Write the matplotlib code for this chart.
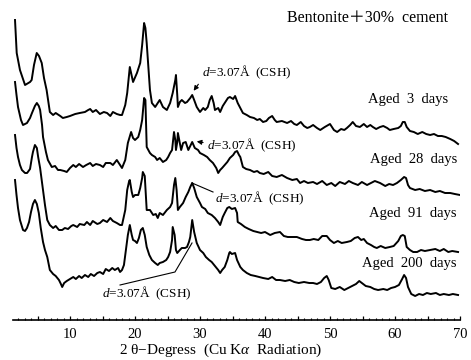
import matplotlib
matplotlib.use('Agg')
import matplotlib.pyplot as plt
from matplotlib.ticker import MultipleLocator, FuncFormatter
import numpy as np

# XRD patterns, Bentonite + 30% cement
# 2theta (deg) / relative intensity (arb. units), one pair per curing age

tt_3d = [1.54, 1.8, 2.3, 3.08, 3.85, 4.1, 4.46, 4.88, 5.23, 5.65, 6.0, 6.4, 6.9, 7.4, 7.8, 8.5, 8.9, 9.5,
         10.0, 10.8, 11.5, 12.3, 12.8, 13.1, 13.5, 14.0, 14.6, 15.2, 15.7, 16.2, 16.6, 17.2, 17.7, 18.0,
         18.5, 18.8, 19.2, 19.7, 20.3, 20.8, 21.1, 21.4, 21.6, 21.8, 22.3, 22.6, 23.1, 23.5, 23.8, 24.3,
         24.9, 25.4, 25.8, 26.2, 26.3, 26.5, 26.6, 26.9, 27.2, 27.7, 28.0, 28.5, 28.8, 29.1, 29.5, 30.0,
         30.5, 30.8, 31.2, 31.5, 31.8, 32.1, 32.3, 32.8, 33.1, 33.5, 33.8, 34.3, 34.6, 35.1, 35.4, 35.8,
         36.2, 36.6, 37.2, 37.7, 38.3, 38.8, 39.2, 39.7, 40.2, 40.6, 41.1, 41.5, 41.8, 42.6, 43.4, 44.0,
         44.5, 44.9, 45.5, 46.0, 46.5, 46.9, 47.4, 48.0, 48.5, 49.2, 50.0, 50.6, 51.1, 51.7, 52.2, 52.6,
         53.1, 53.5, 54.0, 54.6, 55.2, 55.7, 56.2, 56.6, 57.1, 57.7, 58.2, 58.8, 59.2, 59.8, 60.5, 60.9,
         61.2, 61.5, 61.8, 62.3, 62.9, 63.5, 64.2, 64.8, 65.4, 66.0, 66.6, 67.2, 67.8, 68.5, 69.1, 69.7]
int_3d = [125, 92, 75, 60, 63, 65, 80, 92, 89, 82, 67, 55, 33, 30, 32, 29, 27, 28,
          29, 31, 32, 33, 35, 36, 33, 35, 31, 33, 32, 29, 33, 31, 30, 30,
          40, 52, 78, 63, 72, 82, 100, 122, 117, 102, 55, 42, 38, 42, 45, 38,
          35, 42, 52, 65, 70, 50, 38, 43, 45, 42, 43, 47, 50, 45, 38, 33,
          37, 35, 38, 45, 49, 42, 35, 37, 33, 39, 42, 47, 48, 46, 49, 42,
          37, 32, 30, 28, 27, 25, 26, 23, 24, 27, 29, 25, 23, 24, 22, 24,
          21, 20, 23, 19, 17, 18, 20, 17, 15, 18, 21, 15, 13, 16, 15, 17,
          20, 23, 19, 18, 21, 18, 20, 18, 16, 18, 19, 17, 15, 16, 17, 19,
          23, 23, 18, 14, 13, 11, 13, 11, 10, 11, 9, 9, 8, 6, 4, 1]

tt_28d = [1.54, 1.77, 2.0, 2.46, 2.77, 3.08, 3.38, 3.85, 4.15, 4.6, 4.9, 5.2, 5.4, 5.7, 5.85, 6.3, 6.6,
          7.2, 7.7, 8.15, 8.5, 9.1, 9.5, 10.0, 10.5, 10.9, 11.4, 12.0, 12.5, 13.1, 13.5, 14.0, 14.6,
          15.1, 15.5, 16.2, 16.6, 17.2, 17.7, 18.0, 18.5, 18.9, 19.4, 19.7, 20.0, 20.5, 20.8, 21.1,
          21.4, 21.6, 21.8, 22.3, 22.6, 23.1, 23.4, 23.8, 24.3, 24.8, 25.1, 25.4, 25.7, 26.0, 26.2,
          26.3, 26.5, 26.6, 26.8, 27.1, 27.4, 27.8, 28.2, 28.5, 28.8, 29.2, 29.7, 30.0, 30.6, 31.1,
          31.5, 32.0, 32.5, 32.8, 33.1, 33.4, 33.8, 34.2, 34.6, 35.1, 35.4, 35.7, 36.0, 36.2, 36.6,
          37.1, 37.7, 38.3, 38.8, 39.2, 39.8, 40.5, 41.1, 41.8, 42.6, 43.4, 44.2, 44.9, 45.4, 46.0,
          46.6, 47.4, 48.0, 48.8, 49.5, 50.2, 50.8, 51.5, 52.3, 52.9, 53.5, 54.3, 54.9, 55.7, 56.3,
          56.9, 57.7, 58.5, 59.1, 59.7, 60.3, 60.9, 61.4, 61.7, 62.0, 62.3, 63.1, 63.8, 64.6, 65.4,
          66.2, 66.9, 67.7, 68.5, 69.2, 70.0]
int_28d = [118, 105, 93, 80, 75, 76, 77, 82, 87, 94, 97, 94, 90, 75, 63, 48, 40,
           33, 34, 30, 30, 29, 28, 32, 35, 33, 36, 33, 35, 37, 34, 36, 35,
           33, 37, 37, 35, 40, 35, 32, 40, 57, 68, 62, 60, 63, 70, 80,
           102, 100, 53, 47, 45, 43, 40, 42, 38, 40, 43, 47, 50, 68, 60,
           50, 58, 67, 60, 50, 57, 58, 50, 54, 58, 52, 50, 47, 45, 43,
           40, 37, 32, 27, 30, 32, 35, 38, 42, 45, 48, 49, 45, 43, 33,
           31, 30, 28, 29, 27, 26, 28, 24, 23, 25, 22, 20, 21, 17, 19,
           17, 18, 16, 19, 15, 17, 14, 18, 16, 19, 17, 15, 18, 15, 17,
           19, 17, 14, 16, 15, 17, 20, 23, 22, 15, 12, 10, 11, 9, 10,
           8, 9, 7, 7, 6, 5]

tt_91d = [1.54, 1.77, 2.0, 2.3, 2.6, 3.08, 3.4, 3.85, 4.15, 4.3, 4.6, 4.9, 5.1, 5.4, 5.85, 6.15, 6.5,
          6.9, 7.4, 7.8, 8.3, 8.8, 9.2, 9.7, 10.2, 10.5, 11.1, 11.5, 12.2, 12.6, 13.1, 13.5, 14.2,
          14.6, 15.1, 15.7, 16.2, 16.6, 17.2, 17.7, 18.0, 18.5, 18.8, 19.1, 19.2, 19.5, 19.7, 20.0,
          20.5, 20.8, 21.1, 21.2, 21.5, 21.8, 22.3, 22.8, 23.2, 23.5, 23.8, 24.3, 24.9, 25.4, 25.7,
          26.0, 26.2, 26.4, 26.6, 26.9, 27.4, 27.8, 28.2, 28.5, 28.8, 29.1, 29.5, 30.0, 30.3, 30.8,
          31.2, 31.8, 32.3, 32.8, 33.1, 33.5, 33.8, 34.2, 34.5, 34.9, 35.4, 35.7, 35.8, 36.3, 36.9,
          37.5, 38.2, 38.8, 39.4, 40.0, 40.8, 41.5, 42.3, 42.9, 43.5, 44.3, 44.9, 45.7, 46.3, 46.9,
          47.5, 48.2, 48.8, 49.5, 50.0, 50.6, 51.2, 51.8, 52.6, 53.2, 53.8, 54.3, 54.8, 55.2, 55.7,
          56.3, 56.8, 57.2, 57.8, 58.5, 59.2, 59.8, 60.5, 60.9, 61.2, 61.5, 61.8, 62.3, 62.8, 63.4,
          64.0, 64.6, 65.4, 66.2, 66.9, 67.5, 68.2, 68.8, 69.7]
int_91d = [120, 107, 98, 90, 85, 82, 82, 86, 98, 103, 110, 107, 98, 87, 65, 50, 35,
           30, 27, 29, 25, 25, 27, 26, 29, 30, 28, 31, 30, 33, 30, 34, 31,
           32, 35, 33, 37, 34, 32, 30, 30, 45, 65, 74, 75, 63, 58, 60,
           60, 67, 77, 83, 79, 45, 45, 40, 41, 37, 42, 40, 45, 48, 52,
           70, 77, 65, 45, 48, 52, 58, 63, 68, 72, 67, 58, 52, 48, 46,
           42, 40, 37, 33, 30, 38, 42, 47, 48, 46, 47, 42, 33, 31, 28,
           26, 24, 23, 22, 23, 20, 22, 23, 19, 18, 18, 18, 16, 15, 15,
           16, 15, 19, 19, 15, 12, 14, 12, 13, 14, 17, 18, 15, 16, 12,
           10, 8, 7, 9, 7, 8, 9, 14, 19, 20, 19, 8, 5, 3, 3,
           5, 4, 5, 6, 4, 6, 3, 4, 3]

tt_200d = [1.54, 1.77, 2.0, 2.3, 2.77, 3.08, 3.38, 3.7, 4.0, 4.3, 4.6, 4.9, 5.2, 5.5, 5.85, 6.15, 6.5,
           6.9, 7.4, 7.8, 8.3, 8.6, 8.8, 9.1, 9.5, 10.0, 10.5, 10.9, 11.4, 11.8, 12.3, 12.8, 13.2,
           13.7, 14.2, 14.6, 15.1, 15.5, 16.0, 16.5, 16.9, 17.4, 17.7, 18.0, 18.3, 18.6, 18.9, 19.2,
           19.5, 19.7, 20.0, 20.3, 20.6, 20.9, 21.2, 21.5, 21.8, 22.2, 22.6, 23.1, 23.5, 23.8, 24.3,
           24.8, 25.1, 25.4, 25.7, 25.8, 26.1, 26.3, 26.5, 26.9, 27.2, 27.7, 28.0, 28.3, 28.5, 28.7,
           28.8, 29.1, 29.5, 30.0, 30.5, 30.9, 31.4, 31.8, 32.3, 32.8, 33.1, 33.4, 33.8, 34.2, 34.5,
           34.6, 34.9, 35.4, 35.7, 36.2, 36.6, 37.2, 37.8, 38.5, 39.1, 39.7, 40.5, 41.1, 41.7, 42.3,
           43.1, 43.8, 44.5, 45.2, 46.0, 46.8, 47.4, 48.0, 48.6, 49.1, 49.5, 49.8, 50.2, 50.8, 51.5,
           52.2, 52.8, 53.4, 54.0, 54.5, 54.9, 55.5, 56.2, 56.8, 57.4, 58.2, 58.8, 59.4, 60.0, 60.6,
           61.1, 61.4, 61.7, 62.0, 62.5, 63.1, 63.7, 64.3, 64.9, 65.5, 66.3, 66.9, 67.5, 68.3, 68.9, 69.7]
int_200d = [120, 105, 92, 80, 70, 69, 72, 78, 88, 96, 100, 96, 87, 72, 58, 50, 43,
            30, 26, 24, 20, 16, 13, 17, 19, 21, 23, 21, 24, 22, 25, 23, 26,
            24, 27, 28, 26, 31, 29, 32, 30, 32, 28, 30, 35, 50, 65, 75,
            65, 60, 59, 57, 62, 70, 72, 65, 53, 45, 40, 37, 35, 37, 38,
            40, 43, 48, 60, 73, 65, 50, 47, 50, 52, 52, 53, 58, 63, 74,
            80, 68, 57, 50, 47, 43, 40, 38, 34, 30, 27, 30, 33, 40, 47,
            48, 46, 47, 40, 33, 30, 27, 25, 24, 23, 22, 21, 23, 20, 20,
            19, 20, 18, 17, 18, 17, 17, 16, 18, 22, 24, 20, 12, 11, 13,
            10, 12, 14, 16, 19, 17, 14, 13, 11, 10, 11, 10, 12, 13, 15,
            21, 25, 22, 13, 6, 4, 6, 5, 7, 6, 7, 5, 6, 5, 6, 5]

ages = ['Aged 3 days', 'Aged 28 days', 'Aged 91 days', 'Aged 200 days']
patterns = [(tt_3d, int_3d), (tt_28d, int_28d), (tt_91d, int_91d), (tt_200d, int_200d)]
offsets = [175, 120, 65, 20]   # vertical stacking of the curves

plt.rcParams['font.family'] = ['Liberation Serif', 'Noto Sans CJK JP']
plt.rcParams['mathtext.fontset'] = 'custom'
plt.rcParams['mathtext.it'] = 'Liberation Serif:italic'
plt.rcParams['mathtext.rm'] = 'Liberation Serif'

fig = plt.figure(figsize=(4.71, 3.60), dpi=100)
ax = fig.add_axes([13 / 471, 40 / 360, 447 / 471, 320 / 360])

for (tt, inten), off in zip(patterns, offsets):
    plt.plot(tt, np.array(inten) + off, color='black', lw=1.4)

ax.set_xlim(1.23, 70)
ax.set_ylim(0, 320)
for s in ['top', 'left', 'right']:
    ax.spines[s].set_visible(False)
ax.spines['bottom'].set_linewidth(1.2)
ax.set_yticks([])
ax.xaxis.set_major_locator(MultipleLocator(5))
ax.xaxis.set_minor_locator(MultipleLocator(1))
ax.xaxis.set_major_formatter(FuncFormatter(lambda v, p: '%d' % v if v % 10 == 0 else ''))
ax.tick_params(axis='x', which='major', direction='in', length=3, width=0.9, labelsize=10.5, pad=6)
ax.tick_params(axis='x', which='minor', direction='in', length=1.5, width=0.8)
ax.set_xlabel('2 θ−Degress  (Cu K$\\alpha$  Radiation)', fontsize=11)
ax.xaxis.set_label_coords(0.465, -0.068)

# right-hand labels
label_y = [220, 160, 107, 57]
label_x = [68.15, 69.5, 69.5, 69.5]
for txt, lx, ly in zip(ages, label_x, label_y):
    ax.text(lx, ly, txt.replace(' ', '  '), ha='right', va='center', fontsize=10.5)
ax.text(68.15, 302, 'Bentonite＋30%  cement', ha='right', va='center', fontsize=11.5)

# CSH peak markers
lbl = '$d$=3.07Å  (CSH)'
ax.annotate('', xy=(28.77, 227), xytext=(30.0, 238),
            arrowprops=dict(arrowstyle='-|>', color='black', lw=0.8, mutation_scale=7))
ax.text(30.3, 248, lbl, ha='left', va='center', fontsize=9.5)

ax.annotate('', xy=(29.08, 179), xytext=(30.9, 177),
            arrowprops=dict(arrowstyle='-|>', color='black', lw=0.8, mutation_scale=7))
ax.text(31.0, 175, lbl, ha='left', va='center', fontsize=9.5)

ax.plot([28.77, 32.0], [137, 128], color='black', lw=0.8)
ax.text(32.3, 122, lbl, ha='left', va='center', fontsize=9.5)

ax.plot([17.7, 26.15, 28.77], [35, 48, 77], color='black', lw=0.8)
ax.text(14.9, 27, lbl, ha='left', va='center', fontsize=9.5, clip_on=False)

plt.savefig('out.png', dpi=100)
